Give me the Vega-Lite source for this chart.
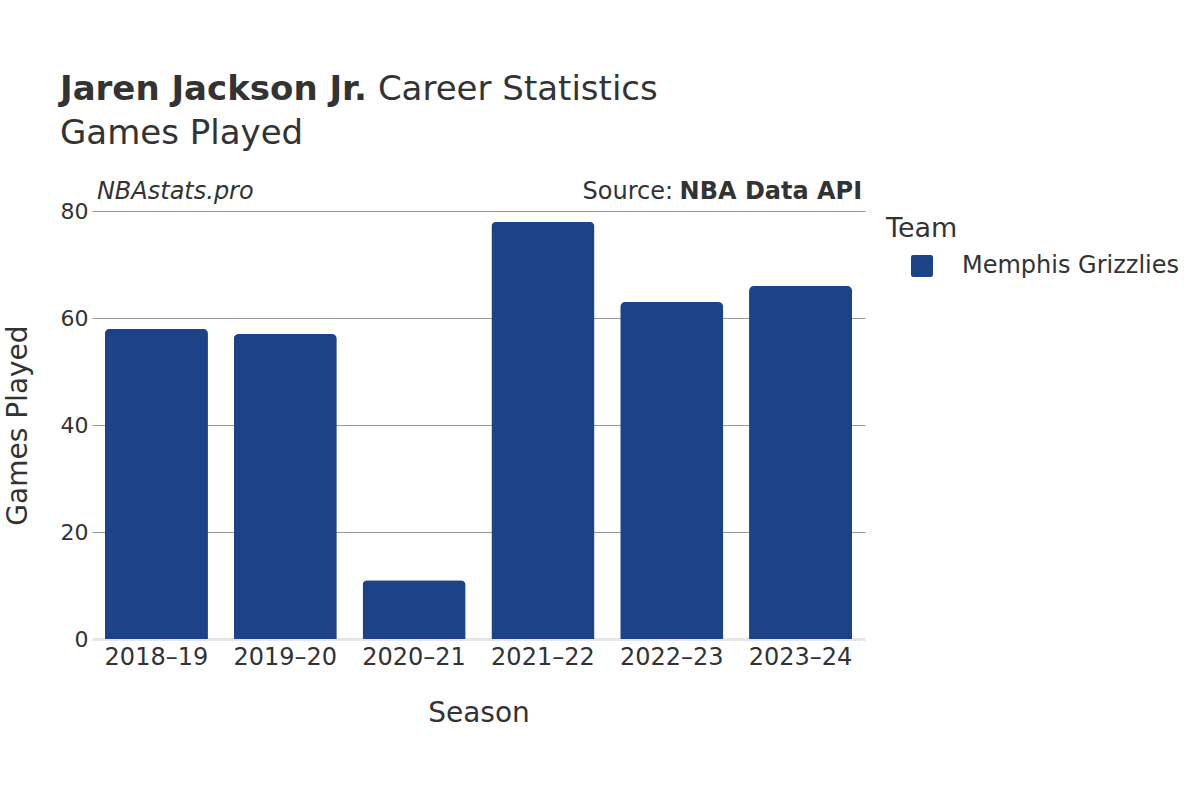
{
  "$schema": "https://vega.github.io/schema/vega-lite/v6.json",
  "width": 773,
  "height": 428,
  "autosize": {"type": "none"},
  "padding": {"left": 92, "top": 211, "right": 335, "bottom": 161},
  "background": "white",
  "title": {
    "text": "Jaren Jackson Jr.",
    "subtitle": "Games Played",
    "anchor": "start",
    "frame": "group",
    "dx": -32,
    "offset": -78,
    "font": "DejaVu Sans",
    "fontSize": 34,
    "fontWeight": "bold",
    "color": "#333333",
    "subtitleFont": "DejaVu Sans",
    "subtitleFontSize": 34,
    "subtitleColor": "#333333",
    "subtitlePadding": 10
  },
  "config": {
    "font": "DejaVu Sans",
    "view": {"stroke": null},
    "text": {"color": "#333333"}
  },
  "layer": [
    {
      "data": {
        "values": [
          {"season": "2018–19", "team": "Memphis Grizzlies", "games": 58},
          {"season": "2019–20", "team": "Memphis Grizzlies", "games": 57},
          {"season": "2020–21", "team": "Memphis Grizzlies", "games": 11},
          {"season": "2021–22", "team": "Memphis Grizzlies", "games": 78},
          {"season": "2022–23", "team": "Memphis Grizzlies", "games": 63},
          {"season": "2023–24", "team": "Memphis Grizzlies", "games": 66}
        ]
      },
      "mark": {"type": "bar", "cornerRadiusTopLeft": 5, "cornerRadiusTopRight": 5},
      "encoding": {
        "x": {
          "field": "season",
          "type": "nominal",
          "sort": null,
          "scale": {"paddingInner": 0.2, "paddingOuter": 0.1},
          "axis": {
            "title": "Season",
            "titleFontSize": 28,
            "titleFontWeight": "normal",
            "titleColor": "#333333",
            "titlePadding": 30,
            "labelFontSize": 24,
            "labelColor": "#333333",
            "labelAngle": 0,
            "labelPadding": 6,
            "ticks": false,
            "domainColor": "#e6e6e6",
            "domainWidth": 3
          }
        },
        "y": {
          "field": "games",
          "type": "quantitative",
          "scale": {"domain": [0, 80]},
          "axis": {
            "title": "Games Played",
            "titleFontSize": 28,
            "titleFontWeight": "normal",
            "titleColor": "#333333",
            "titlePadding": 28,
            "labelFontSize": 22,
            "labelColor": "#333333",
            "labelPadding": 4,
            "values": [0, 20, 40, 60, 80],
            "ticks": false,
            "domain": false,
            "gridColor": {"condition": {"test": "datum.value === 0", "value": "transparent"}, "value": "#999999"},
            "gridWidth": 1
          }
        },
        "color": {
          "field": "team",
          "type": "nominal",
          "scale": {"range": ["#1c4387"]},
          "legend": {
            "title": "Team",
            "orient": "right",
            "offset": 16,
            "padding": 5,
            "titleFontSize": 27,
            "titleFontWeight": "normal",
            "titleColor": "#333333",
            "titlePadding": 11,
            "labelFontSize": 24,
            "labelColor": "#333333",
            "labelLimit": 320,
            "symbolType": "M -0.8 -1 L 0.8 -1 Q 1 -1 1 -0.8 L 1 0.8 Q 1 1 0.8 1 L -0.8 1 Q -1 1 -1 0.8 L -1 -0.8 Q -1 -1 -0.8 -1 Z",
            "symbolSize": 484,
            "symbolOpacity": 1,
            "symbolOffset": 24,
            "labelOffset": 28
          }
        }
      }
    },
    {
      "data": {"values": [{}]},
      "mark": {"type": "text", "text": "NBAstats.pro", "fontSize": 24, "fontStyle": "italic", "align": "left", "baseline": "middle", "dx": -8, "dy": -19},
      "encoding": {
        "x": {"datum": "2018–19", "type": "nominal", "bandPosition": 0},
        "y": {"datum": 80, "type": "quantitative"}
      }
    },
    {
      "data": {"values": [{}]},
      "mark": {"type": "text", "text": "NBA Data API", "fontSize": 24, "fontWeight": "bold", "align": "right", "baseline": "middle", "dx": 10, "dy": -19},
      "encoding": {
        "x": {"datum": "2023–24", "type": "nominal", "bandPosition": 1},
        "y": {"datum": 80, "type": "quantitative"}
      }
    },
    {
      "data": {"values": [{}]},
      "mark": {"type": "text", "text": "Source:", "fontSize": 24, "align": "right", "baseline": "middle", "dx": -179, "dy": -19},
      "encoding": {
        "x": {"datum": "2023–24", "type": "nominal", "bandPosition": 1},
        "y": {"datum": 80, "type": "quantitative"}
      }
    },
    {
      "data": {"values": [{}]},
      "mark": {"type": "text", "text": "Career Statistics", "fontSize": 34, "align": "left", "baseline": "alphabetic", "dx": 273, "dy": -111},
      "encoding": {
        "x": {"datum": "2018–19", "type": "nominal", "bandPosition": 0},
        "y": {"datum": 80, "type": "quantitative"}
      }
    }
  ]
}
